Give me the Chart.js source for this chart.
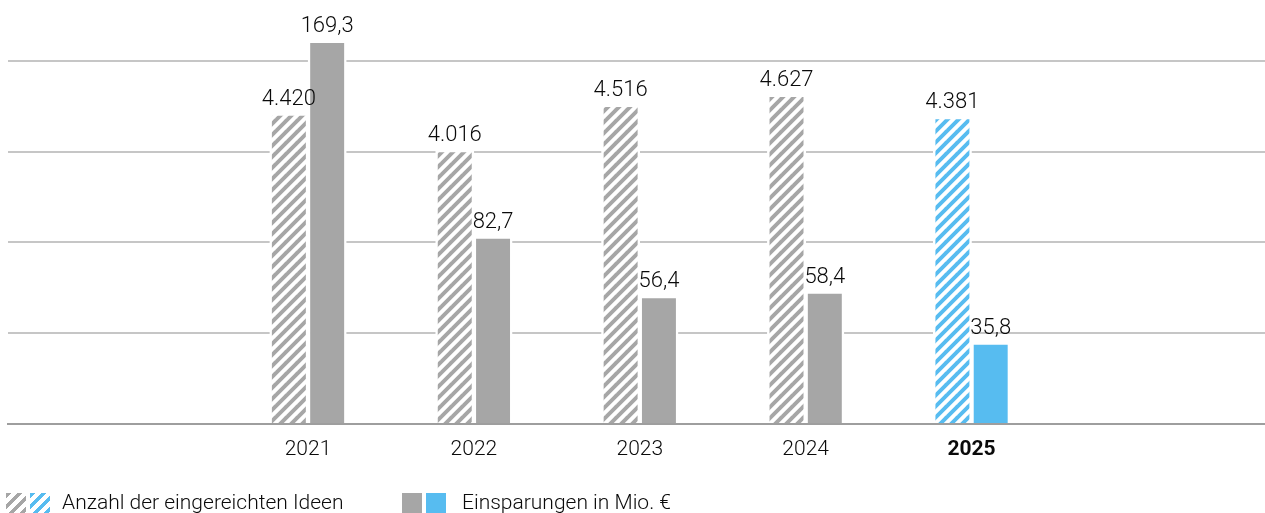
<!DOCTYPE html>
<html>
<head>
<meta charset="utf-8">
<script src="https://cdn.jsdelivr.net/npm/chart.js@4.4.1/dist/chart.umd.min.js"></script>
<style>
html,body{margin:0;padding:0;background:#fff;}
#wrap{position:relative;width:1265px;height:513px;overflow:hidden;background:#fff;}
#c{position:absolute;left:0;top:0;}
.legend{position:absolute;top:493px;height:20px;font-family:Roboto,"DejaVu Sans",sans-serif;font-size:21px;font-weight:300;color:#0a0a0a;white-space:nowrap;}
.sw{position:absolute;top:0;width:20px;height:20px;}
.lt{position:absolute;top:-3px;line-height:24px;}
</style>
</head>
<body>
<div id="wrap">
  <canvas id="c" width="1265" height="513"></canvas>
  <div class="legend" style="left:0;">
    <span class="sw" id="swA1" style="left:6px;"></span>
    <span class="sw" id="swA2" style="left:30px;"></span>
    <span class="lt" id="ltA" style="left:62px;"></span>
  </div>
  <div class="legend" style="left:0;">
    <span class="sw" id="swB1" style="left:402px;"></span>
    <span class="sw" id="swB2" style="left:426px;"></span>
    <span class="lt" id="ltB" style="left:462px;"></span>
  </div>
</div>
<script>
// ---- data ----
const categories = ['2021', '2022', '2023', '2024', '2025'];
const ideas = [4420, 4016, 4516, 4627, 4381];
const savings = [169.3, 82.7, 56.4, 58.4, 35.8];
const seriesNames = ['Anzahl der eingereichten Ideen', 'Einsparungen in Mio. €'];
const highlightCategory = '2025';
const ideasTicks = [1000, 2000, 3000, 4000, 5000];

// ---- styles ----
const GRAY = '#a6a6a6';
const BLUE = '#57bcf0';
const TEXT = '#0a0a0a';
const FONT = 'Roboto, "DejaVu Sans", sans-serif';

function hatch(color) {
  const s = 11;
  const c = document.createElement('canvas');
  c.width = s; c.height = s;
  const g = c.getContext('2d');
  g.fillStyle = '#ffffff';
  g.fillRect(0, 0, s, s);
  g.strokeStyle = color;
  g.lineWidth = 3.9;
  g.lineCap = 'square';
  for (const k of [-s, 0, s]) {
    g.beginPath();
    g.moveTo(k, s);
    g.lineTo(k + s, 0);
    g.stroke();
  }
  return g.createPattern(c, 'repeat');
}
const hatchGray = hatch(GRAY);
const hatchBlue = hatch(BLUE);

const isHi = i => categories[i] === highlightCategory;

// legend (HTML text)
const hatchCss = c => `repeating-linear-gradient(135deg, ${c} 0 3.9px, #fff 3.9px 7.8px)`;
document.getElementById('swA1').style.background = hatchCss(GRAY);
document.getElementById('swA2').style.background = hatchCss(BLUE);
document.getElementById('swB1').style.background = GRAY;
document.getElementById('swB2').style.background = BLUE;
document.getElementById('ltA').textContent = seriesNames[0];
document.getElementById('ltB').textContent = seriesNames[1];

function fmtInt(v) {
  return String(v).replace(/\B(?=(\d{3})+(?!\d))/g, '.');
}
function fmtDec(v) {
  return v.toFixed(1).replace('.', ',');
}

const valueLabels = {
  id: 'valueLabels',
  afterDatasetsDraw(chart) {
    const ctx = chart.ctx;
    ctx.save();
    ctx.font = '300 22px ' + FONT;
    ctx.fillStyle = TEXT;
    ctx.textAlign = 'center';
    ctx.textBaseline = 'alphabetic';
    chart.data.datasets.forEach((ds, di) => {
      const meta = chart.getDatasetMeta(di);
      meta.data.forEach((el, i) => {
        const v = ds.data[i].y;
        const txt = di === 0 ? fmtInt(v) : fmtDec(v);
        ctx.fillText(txt, el.x, el.y - 9);
      });
    });
    ctx.restore();
  }
};

new Chart(document.getElementById('c'), {
  type: 'bar',
  data: {
    datasets: [
      {
        label: seriesNames[0],
        data: ideas.map((v, i) => ({ x: i, y: v })),
        yAxisID: 'y',
        backgroundColor: ideas.map((v, i) => isHi(i) ? hatchBlue : hatchGray),
        borderColor: '#ffffff',
        borderWidth: 2.5,
        borderSkipped: 'start',
        barThickness: 38.3
      },
      {
        label: seriesNames[1],
        data: savings.map((v, i) => ({ x: i, y: v })),
        yAxisID: 'y1',
        backgroundColor: savings.map((v, i) => isHi(i) ? BLUE : GRAY),
        borderColor: '#ffffff',
        borderWidth: 2.5,
        borderSkipped: 'start',
        barThickness: 38.3
      }
    ]
  },
  options: {
    responsive: false,
    devicePixelRatio: 1,
    animation: false,
    layout: { padding: { left: 8, right: 0, top: 0, bottom: 0 } },
    plugins: {
      legend: { display: false },
      tooltip: { enabled: false }
    },
    scales: {
      x: {
        type: 'linear',
        min: -1.8086,
        max: 5.769,
        offset: false,
        afterBuildTicks: s => { s.ticks = categories.map((c, i) => ({ value: i })); },
        afterFit: s => { s.height = 89.5; },
        ticks: {
          autoSkip: false,
          maxRotation: 0,
          padding: 14,
          color: TEXT,
          font: c => ({ family: FONT, size: 21, weight: (c.tick && isHi(c.tick.value)) ? 'bold' : '300' }),
          callback: v => categories[v]
        },
        grid: { display: false, drawTicks: false },
        border: { display: true, color: '#9e9e9e', width: 2, z: 1 }
      },
      y: {
        position: 'left',
        min: 1000,
        max: 5673,
        afterBuildTicks: s => { s.ticks = ideasTicks.map(v => ({ value: v })); },
        ticks: { display: false },
        grid: {
          drawTicks: false,
          lineWidth: 2,
          color: c => c.tick && c.tick.value === ideasTicks[0] ? 'rgba(0,0,0,0)' : '#c6c6c6'
        },
        border: { display: false }
      },
      y1: {
        display: false,
        position: 'right',
        min: 0,
        max: 187.4
      }
    }
  },
  plugins: [valueLabels]
});
</script>
</body>
</html>
